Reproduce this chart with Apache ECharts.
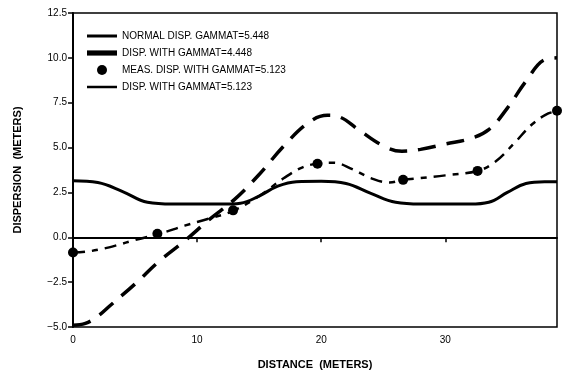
<!DOCTYPE html>
<html>
<head>
<meta charset="utf-8">
<script src="https://cdn.jsdelivr.net/npm/echarts@6/dist/echarts.min.js"></script>
<style>
  html, body { margin: 0; padding: 0; background: #fff; }
  #chart { width: 563px; height: 375px; }
</style>
</head>
<body>
<div id="chart"></div>
<script>
// values
const normalX = [0, 2, 4, 6, 8, 10, 12, 13.5, 15, 16.5, 18, 20, 22, 24, 26, 28, 30, 32, 33.5, 35, 36.5, 38, 39];
const normalY = [3.15, 3.05, 2.55, 1.95, 1.85, 1.85, 1.85, 1.9, 2.3, 2.85, 3.1, 3.12, 3.0, 2.45, 1.95, 1.85, 1.85, 1.85, 1.95, 2.5, 3.0, 3.1, 3.1];

const disp4X = [0, 1, 2, 3, 5, 7, 9, 11, 13, 15, 17, 19, 20.5, 21.5, 23, 25, 26.5, 28, 30, 32, 33.5, 35, 36.5, 38, 39];
const disp4Y = [-4.9, -4.8, -4.4, -3.8, -2.6, -1.3, -0.2, 1.0, 2.1, 3.5, 5.1, 6.4, 6.8, 6.7, 6.0, 5.1, 4.8, 4.9, 5.2, 5.5, 6.0, 7.2, 8.7, 9.9, 10.0];

const disp5X = [0, 1, 2, 3.5, 5, 7, 9, 11, 13, 15, 17, 18.5, 19.7, 21, 22.5, 24, 25.5, 26.6, 28, 30, 32.6, 34, 35.5, 37, 38.3, 39];
const disp5Y = [-0.85, -0.8, -0.7, -0.45, -0.15, 0.2, 0.65, 1.05, 1.5, 2.3, 3.3, 3.9, 4.1, 4.15, 3.8, 3.3, 3.05, 3.2, 3.3, 3.45, 3.7, 4.2, 5.2, 6.3, 6.9, 7.0];

const measX = [0, 6.8, 12.9, 19.7, 26.6, 32.6, 39];
const measY = [-0.85, 0.2, 1.5, 4.1, 3.2, 3.7, 7.05];

const xTicks = [0, 10, 20, 30];

const names = ['NORMAL DISP. GAMMAT=5.448', 'DISP. WITH GAMMAT=4.448',
               'MEAS. DISP. WITH GAMMAT=5.123', 'DISP. WITH GAMMAT=5.123'];

function zip(xs, ys) {
    return xs.map((x, i) => [x, ys[i]]);
}

const font = 'Liberation Sans';
const chart = echarts.init(document.getElementById('chart'), null, { renderer: 'canvas' });

const option = {
    animation: false,
    backgroundColor: '#fff',
    grid: {
        left: 73, right: 6, top: 13, bottom: 47,
        show: true, borderColor: '#000', borderWidth: 1.5
    },
    legend: {
        orient: 'vertical',
        left: 82, top: 26,
        itemWidth: 30, itemHeight: 10, itemGap: 7,
        textStyle: { fontFamily: font, fontSize: 10, color: '#000' },
        data: [
            { name: names[0], icon: 'path://M0,0h30v3h-30z' },
            { name: names[1], icon: 'path://M0,0h26v4.5h-26z' },
            { name: names[2], icon: 'circle' },
            { name: names[3], icon: 'path://M0,0h30v2.5h-30z' }
        ]
    },
    xAxis: {
        type: 'value', min: 0, max: 39, interval: 10,
        name: 'DISTANCE  (METERS)', nameLocation: 'middle', nameGap: 32,
        nameTextStyle: { fontFamily: font, fontSize: 11, fontWeight: 'bold', color: '#000' },
        axisLine: { lineStyle: { color: '#000', width: 2 } },
        axisTick: { length: 5, lineStyle: { color: '#000', width: 1.5 } },
        axisLabel: {
            fontFamily: font, fontSize: 10, color: '#000', margin: 8, showMaxLabel: false,
            formatter: v => xTicks.includes(v) ? String(v) : ''
        },
        splitLine: { show: false }
    },
    yAxis: {
        type: 'value', min: -5, max: 12.5, interval: 2.5,
        name: 'DISPERSION  (METERS)', nameLocation: 'middle', nameGap: 50,
        nameTextStyle: { fontFamily: font, fontSize: 11, fontWeight: 'bold', color: '#000' },
        axisLine: { show: true, lineStyle: { color: '#000', width: 2 } },
        axisTick: { show: true, length: 5, lineStyle: { color: '#000', width: 1.5 } },
        axisLabel: {
            fontFamily: font, fontSize: 10, color: '#000', margin: 6,
            formatter: v => (v < 0 ? '\u2212' : '') + Math.abs(v).toFixed(1)
        },
        splitLine: { show: false }
    },
    series: [
        {
            name: names[0], type: 'line', smooth: 0.4,
            symbol: 'none', data: zip(normalX, normalY),
            lineStyle: { color: '#000', width: 3 }, itemStyle: { color: '#000' },
            markLine: {
                silent: true, symbol: 'none', label: { show: false },
                lineStyle: { color: '#000', width: 1, type: 'solid' },
                data: [{ yAxis: 0 }]
            }
        },
        {
            name: names[1], type: 'line', smooth: 0.4,
            symbol: 'none', data: zip(disp4X, disp4Y),
            lineStyle: { color: '#000', width: 3.5, type: [18, 11] }, itemStyle: { color: '#000' }
        },
        {
            name: names[2], type: 'scatter',
            symbol: 'circle', symbolSize: 10, data: zip(measX, measY),
            itemStyle: { color: '#000', opacity: 1 }, z: 5
        },
        {
            name: names[3], type: 'line', smooth: 0.4,
            symbol: 'none', data: zip(disp5X, disp5Y),
            lineStyle: { color: '#000', width: 2.5, type: [12, 7, 6, 7] }, itemStyle: { color: '#000' }
        }
    ]
};

chart.setOption(option);
</script>
</body>
</html>
